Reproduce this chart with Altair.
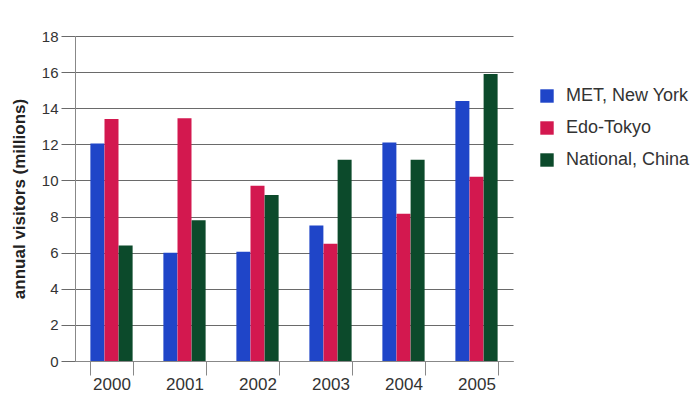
import altair as alt
import pandas as pd

years = ["2000", "2001", "2002", "2003", "2004", "2005"]
series = ["MET, New York", "Edo-Tokyo", "National, China"]
met = [12.05, 6.0, 6.05, 7.5, 12.1, 14.4]
edo = [13.4, 13.45, 9.7, 6.5, 8.15, 10.2]
nat = [6.4, 7.8, 9.2, 11.15, 11.15, 15.9]
colors = ["#1f45c8", "#d3184f", "#0c4a2b"]

rows = []
for i, y in enumerate(years):
    for s, vals in zip(series, [met, edo, nat]):
        rows.append({"year": y, "museum": s, "visitors": vals[i]})
df = pd.DataFrame(rows)

font = "Liberation Sans"

chart = alt.Chart(df).mark_bar(size=14).encode(
    x=alt.X("year:N", title=None,
            scale=alt.Scale(paddingInner=0.42, paddingOuter=0.21),
            axis=alt.Axis(labelAngle=0, tickBand="extent", grid=False,
                          domainColor="#888", tickColor="#888", tickSize=14,
                          labelFontSize=17, labelFont=font, labelColor="#333",
                          labelPadding=1)),
    xOffset=alt.XOffset("museum:N", sort=series,
                        scale=alt.Scale(paddingInner=0, paddingOuter=0)),
    y=alt.Y("visitors:Q", title="annual visitors (millions)",
            scale=alt.Scale(domain=[0, 18], nice=False),
            axis=alt.Axis(values=list(range(0, 19, 2)), gridColor="#6a6a6a",
                          gridWidth=1.2, domainColor="#888", tickColor="#6a6a6a",
                          tickSize=14, labelFontSize=15, labelFont=font,
                          labelColor="#333", labelPadding=3,
                          titleFont=font, titleFontSize=17, titleFontWeight="bold",
                          titleColor="#222", titlePadding=13)),
    color=alt.Color("museum:N", sort=series,
                    scale=alt.Scale(domain=series, range=colors),
                    legend=alt.Legend(title=None, orient="none", legendX=463, legendY=51,
                                      symbolType="square", symbolSize=180,
                                      symbolStrokeWidth=0, labelFontSize=18,
                                      labelFont=font, labelColor="#333",
                                      rowPadding=14, labelOffset=10)),
).properties(
    width=438, height=325,
    autosize=alt.AutoSizeParams(type="none"),
    padding={"left": 67, "top": 28, "right": 177, "bottom": 33},
).configure_view(stroke=None)

chart.save("out.html", embed_options={"renderer": "svg", "actions": False})
